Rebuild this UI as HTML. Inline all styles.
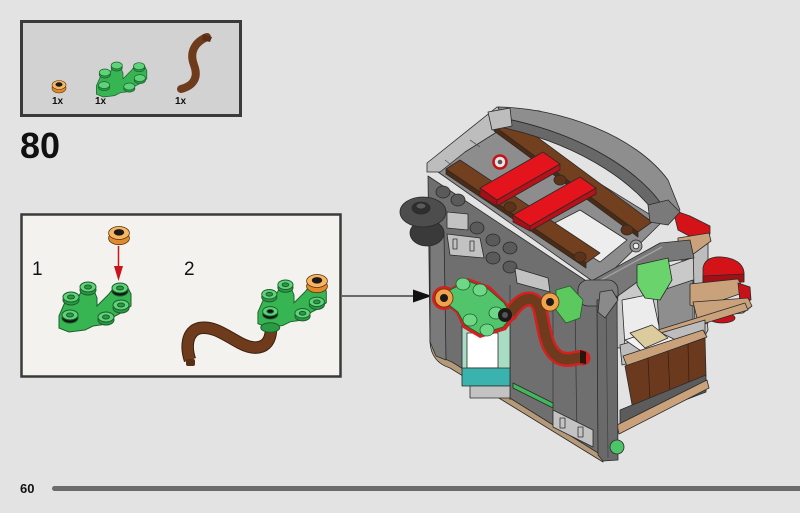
<!DOCTYPE html>
<html><head><meta charset="utf-8"><style>
html,body{margin:0;padding:0;background:#e3e3e3;}
svg{display:block;}
text{font-family:"Liberation Sans",Arial,sans-serif;fill:#111;}
</style></head><body>
<svg width="800" height="513" viewBox="0 0 800 513" xmlns="http://www.w3.org/2000/svg">
<rect width="800" height="513" fill="#e3e3e3"/>

<!-- PARTS BOX -->
<rect x="21.5" y="21.5" width="219" height="94" fill="#d2d2d2" stroke="#3a3a3a" stroke-width="3"/>
<!-- orange stud -->
<g transform="translate(59,85)">
<ellipse cx="0" cy="3" rx="7" ry="5" fill="#e08a30" stroke="#5a3008" stroke-width=".6"/>
<ellipse cx="0" cy="0" rx="7" ry="4.5" fill="#f6b562" stroke="#5a3008" stroke-width=".6"/>
<ellipse cx="0" cy="-0.5" rx="3.5" ry="2.2" fill="#1a1a1a"/>
</g>
<!-- green branch small -->
<g transform="translate(95,62) scale(0.7)">
<polygon points="2,34 8,20 22,14 26,6 36,6 40,16 40,24 52,12 58,4 70,4 74,12 74,24 66,30 58,34 50,42 36,44 28,48 12,50 2,46" fill="#38b553" stroke="#1d5f2c" stroke-width="1"/>
<g stroke="#1d5f2c" stroke-width="1">
<ellipse cx="31" cy="8" rx="8" ry="5" fill="#2a9a45"/><ellipse cx="31" cy="5" rx="8" ry="5" fill="#5ed37a"/>
<ellipse cx="63" cy="9" rx="8" ry="5" fill="#2a9a45"/><ellipse cx="63" cy="6" rx="8" ry="5" fill="#5ed37a"/>
<ellipse cx="14" cy="18" rx="8" ry="5" fill="#2a9a45"/><ellipse cx="14" cy="15" rx="8" ry="5" fill="#5ed37a"/>
<ellipse cx="64" cy="26" rx="8" ry="5" fill="#2a9a45"/><ellipse cx="64" cy="23" rx="8" ry="5" fill="#5ed37a"/>
<ellipse cx="49" cy="38" rx="8" ry="5" fill="#2a9a45"/><ellipse cx="49" cy="35" rx="8" ry="5" fill="#5ed37a"/>
<ellipse cx="13" cy="36" rx="8" ry="5" fill="#2a9a45"/><ellipse cx="13" cy="33" rx="8" ry="5" fill="#5ed37a"/>
</g>
</g>
<!-- brown S -->
<path d="M207,37 C195,42 189,52 194,65 C199,78 193,86 181,89" fill="none" stroke="#6e3b1c" stroke-width="8" stroke-linecap="round"/>
<path d="M203,34 L212,37 L210,42 L202,40 Z" fill="#5a2e14"/>
<text x="52" y="104" font-size="10" font-weight="bold">1x</text>
<text x="95" y="104" font-size="10" font-weight="bold">1x</text>
<text x="175" y="104" font-size="10" font-weight="bold">1x</text>

<text x="20" y="158" font-size="36" font-weight="bold">80</text>

<!-- SUB-STEP BOX -->
<rect x="21.5" y="214.5" width="319" height="162" fill="#f3f2ee" stroke="#3a3a3a" stroke-width="2.5"/>
<text x="32" y="275" font-size="19">1</text>
<text x="184" y="275" font-size="19">2</text>

<!-- step1 orange stud + arrow -->
<g transform="translate(119,233) scale(1.3)">
<ellipse cx="0" cy="4" rx="8" ry="5" fill="#e08a30" stroke="#5a3008" stroke-width=".6"/>
<ellipse cx="0" cy="0" rx="8" ry="5" fill="#f6b562" stroke="#5a3008" stroke-width=".6"/>
<ellipse cx="0" cy="-0.5" rx="4" ry="2.5" fill="#1a1a1a"/>
</g>
<line x1="118.5" y1="246" x2="118.5" y2="270" stroke="#c8141c" stroke-width="1.5"/>
<polygon points="114,266 123,266 118.5,281" fill="#c8141c"/>

<!-- step1 green -->
<g transform="translate(57,282)">
<polygon points="2,34 8,20 22,14 26,6 36,6 40,16 40,24 52,12 58,4 70,4 74,12 74,24 66,30 58,34 50,42 36,44 28,48 12,50 2,46" fill="#38b553" stroke="#1d5f2c" stroke-width="1"/>
<g stroke="#1d5f2c" stroke-width="1">
<ellipse cx="31" cy="8" rx="8" ry="5" fill="#2a9a45"/><ellipse cx="31" cy="5" rx="8" ry="5" fill="#5ed37a"/><ellipse cx="31" cy="5" rx="3.5" ry="2" fill="#2a9a45"/>
<ellipse cx="63" cy="9" rx="8" ry="5" fill="#111"/><ellipse cx="63" cy="6" rx="8" ry="5" fill="#5ed37a"/><ellipse cx="63" cy="6" rx="3.5" ry="2" fill="#2a9a45"/>
<ellipse cx="14" cy="18" rx="8" ry="5" fill="#2a9a45"/><ellipse cx="14" cy="15" rx="8" ry="5" fill="#5ed37a"/><ellipse cx="14" cy="15" rx="3.5" ry="2" fill="#2a9a45"/>
<ellipse cx="64" cy="26" rx="8" ry="5" fill="#2a9a45"/><ellipse cx="64" cy="23" rx="8" ry="5" fill="#5ed37a"/><ellipse cx="64" cy="23" rx="3.5" ry="2" fill="#2a9a45"/>
<ellipse cx="49" cy="38" rx="8" ry="5" fill="#2a9a45"/><ellipse cx="49" cy="35" rx="8" ry="5" fill="#5ed37a"/><ellipse cx="49" cy="35" rx="3.5" ry="2" fill="#2a9a45"/>
<ellipse cx="13" cy="36" rx="8" ry="5" fill="#111"/><ellipse cx="13" cy="33" rx="8" ry="5" fill="#5ed37a"/><ellipse cx="13" cy="33" rx="3.5" ry="2" fill="#2a9a45"/>
</g>
</g>

<!-- step2 brown hose -->
<path d="M271,326 C272,350 255,351 240,343 C225,335 214,326 200,328 C186,331 186,348 190,360" fill="none" stroke="#3d1f0c" stroke-width="12.5"/>
<path d="M271,326 C272,350 255,351 240,343 C225,335 214,326 200,328 C186,331 186,348 190,360" fill="none" stroke="#6e3b1c" stroke-width="10.5"/>
<rect x="186" y="359" width="9" height="7" rx="2" fill="#5a2e14"/>
<!-- step2 green -->
<g transform="translate(256,280) scale(0.95)">
<polygon points="2,34 8,20 22,14 26,6 36,6 40,16 40,24 52,12 58,4 70,4 74,12 74,24 66,30 58,34 50,42 36,44 28,48 12,50 2,46" fill="#38b553" stroke="#1d5f2c" stroke-width="1"/>
<g stroke="#1d5f2c" stroke-width="1">
<ellipse cx="31" cy="8" rx="8" ry="5" fill="#2a9a45"/><ellipse cx="31" cy="5" rx="8" ry="5" fill="#5ed37a"/><ellipse cx="31" cy="5" rx="3.5" ry="2" fill="#2a9a45"/>
<ellipse cx="14" cy="18" rx="8" ry="5" fill="#2a9a45"/><ellipse cx="14" cy="15" rx="8" ry="5" fill="#5ed37a"/><ellipse cx="14" cy="15" rx="3.5" ry="2" fill="#2a9a45"/>
<ellipse cx="64" cy="26" rx="8" ry="5" fill="#2a9a45"/><ellipse cx="64" cy="23" rx="8" ry="5" fill="#5ed37a"/><ellipse cx="64" cy="23" rx="3.5" ry="2" fill="#2a9a45"/>
<ellipse cx="49" cy="38" rx="8" ry="5" fill="#2a9a45"/><ellipse cx="49" cy="35" rx="8" ry="5" fill="#5ed37a"/><ellipse cx="49" cy="35" rx="3.5" ry="2" fill="#2a9a45"/>
<ellipse cx="15" cy="50" rx="10" ry="5" fill="#2a9a45"/>
<ellipse cx="15" cy="36" rx="8" ry="5" fill="#111"/><ellipse cx="15" cy="33" rx="8" ry="5" fill="#5ed37a"/><ellipse cx="15" cy="33" rx="3.5" ry="2" fill="#111"/>
</g>
</g>
<g transform="translate(317,281) scale(1.3)">
<ellipse cx="0" cy="4" rx="8" ry="5" fill="#e08a30" stroke="#5a3008" stroke-width=".6"/>
<ellipse cx="0" cy="0" rx="8" ry="5" fill="#f6b562" stroke="#5a3008" stroke-width=".6"/>
<ellipse cx="0" cy="-0.5" rx="4" ry="2.5" fill="#1a1a1a"/>
</g>

<!-- connector arrow -->
<line x1="342" y1="296" x2="416" y2="296" stroke="#222" stroke-width="1.3"/>
<polygon points="413,289.5 432,296 413,302.5" fill="#111"/>

<!-- ================= MAIN MODEL ================= -->
<g stroke="#2a2a2a" stroke-width="0.8" stroke-linejoin="round">
<!-- right back interior -->
<polygon points="617,285 700,255 708,330 700,345 617,348" fill="#c9c9c9"/>
<polygon points="622,300 652,294 662,340 625,347" fill="#ececec"/>
<polygon points="657,292 693,280 693,338 660,345" fill="#8e8e8e"/>
<polygon points="693,247 708,243 708,323 695,327" fill="#bdbdbd"/>

<!-- red / tan right -->
<polygon points="673,210 690,216 710,226 710,234 693,238 678,230" fill="#d41319"/>
<polygon points="678,238 709,233 711,241 684,261 678,259" fill="#c9a27b"/>
<path d="M703,268 Q705,256 722,257 Q742,259 744,272 L744,281 L703,283 Z" fill="#d41319"/>
<polygon points="703,276 744,274 744,282 703,284" fill="#a30f14"/>
<polygon points="690,284 738,279 745,292 700,308 690,305" fill="#c9a27b"/>
<polygon points="738,283 750,287 751,300 740,302" fill="#c8121a"/>
<polygon points="693,302 748,298 752,306 743,313 697,318" fill="#c9a27b"/>
<ellipse cx="722" cy="318" rx="13" ry="5" fill="#c8121a"/>
<polygon points="658,330 745,303 748,310 660,337" fill="#c9a27b"/>

<!-- interior lower -->
<polygon points="620,345 705,320 705,345 622,365" fill="#bdbdbd"/>
<polygon points="625,340 655,330 680,342 650,357" fill="#f2f2f2"/>
<polygon points="630,333 652,325 668,338 645,348" fill="#dccb9c"/>
<polygon points="623,356 703,330 707,337 627,366" fill="#c9a27b"/>
<polygon points="625,366 705,338 706,375 633,410" fill="#6b3a1e"/>
<line x1="648" y1="358" x2="650" y2="402" stroke="#3d1f0c"/>
<line x1="668" y1="351" x2="670" y2="394" stroke="#3d1f0c"/>
<line x1="688" y1="344" x2="689" y2="383" stroke="#3d1f0c"/>
<polygon points="620,410 706,375 706,392 620,425" fill="#5c5c5c"/>
<polygon points="617,425 707,380 709,388 619,434" fill="#c9a27b"/>

<!-- front wall -->
<polygon points="428,176 600,290 601,457 450,366 436,357 430,342" fill="#6f6f6f"/>
<path d="M430,342 Q431,362 450,368 L603,462 L603,456 L452,362 Q437,357 435,342 Z" fill="#b59a7a"/>
<polygon points="430,235 444,232 446,360 436,356 430,342" fill="#7a7a7a"/>
<line x1="510" y1="285" x2="510" y2="400" stroke="#3a3a3a"/>
<line x1="553" y1="300" x2="553" y2="425" stroke="#3a3a3a"/>
<line x1="575" y1="300" x2="577" y2="440" stroke="#3a3a3a"/>

<!-- top face -->
<polygon points="438,172 500,122 662,222 598,285" fill="#8d8d8d"/>
<polygon points="427,163 497,107 540,111 545,120 500,130 465,152 440,172 427,172" fill="#bdbdbd"/>
<line x1="445" y1="160" x2="455" y2="168" stroke="#555"/>
<line x1="470" y1="140" x2="480" y2="147" stroke="#555"/>
<line x1="495" y1="120" x2="505" y2="126" stroke="#555"/>

<!-- brown B -->
<polygon points="494,126 638,232 638,237 494,131" fill="#4e2a13"/>
<polygon points="494,126 510,117 652,222 638,232" fill="#73401f"/>
<!-- white gap -->
<polygon points="545,228 580,210 627,240 600,262" fill="#ededed"/>
<!-- brown A -->
<polygon points="446,169 586,263 586,268 446,174" fill="#4e2a13"/>
<polygon points="446,169 460,160 600,253 586,263" fill="#73401f"/>
<!-- brown studs -->
<ellipse cx="510" cy="207" rx="6" ry="5" fill="#5e3218"/>
<ellipse cx="560" cy="180" rx="6" ry="5" fill="#5e3218"/>
<ellipse cx="627" cy="230" rx="6" ry="5" fill="#5e3218"/>
<ellipse cx="580" cy="257" rx="6" ry="5" fill="#5e3218"/>
<!-- red ring -->
<circle cx="500" cy="162" r="6.5" fill="#e6e6e6" stroke="#c8121a" stroke-width="2.5"/>
<circle cx="500" cy="162" r="2.3" fill="#555" stroke="none"/>
<!-- red strips -->
<polygon points="480,188 497,200 497,206 480,196" fill="#a80f14"/>
<polygon points="497,200 560,164 560,170 497,206" fill="#b81117"/>
<polygon points="480,188 543,152 560,164 497,200" fill="#e3141c"/>
<polygon points="513,215 530,226 530,231 513,222" fill="#a80f14"/>
<polygon points="530,226 596,188 596,194 530,231" fill="#b81117"/>
<polygon points="513,215 580,177 596,188 530,226" fill="#e3141c"/>

<!-- roof arc -->
<path d="M498,107 C560,108 635,135 668,180 L680,210 L668,216 C652,180 590,135 502,118 Z" fill="#8e8e8e"/>
<path d="M502,118 C590,135 652,180 668,216 L662,224 C642,188 585,145 500,127 Z" fill="#686868"/>
<polygon points="648,205 668,200 680,212 668,225 650,222" fill="#7a7a7a"/>
<polygon points="488,112 510,108 512,126 492,130" fill="#bdbdbd"/>

<!-- studs on slope -->
<g fill="#5a5a5a">
<ellipse cx="443" cy="192" rx="7" ry="6"/>
<ellipse cx="458" cy="200" rx="7" ry="6"/>
<ellipse cx="477" cy="228" rx="7" ry="6"/>
<ellipse cx="493" cy="240" rx="7" ry="6"/>
<ellipse cx="510" cy="248" rx="7" ry="6"/>
<ellipse cx="493" cy="258" rx="7" ry="6"/>
<ellipse cx="510" cy="267" rx="7" ry="6"/>
</g>

<!-- black round piece -->
<ellipse cx="427" cy="233" rx="17" ry="13" fill="#3a3a3a"/>
<ellipse cx="423" cy="212" rx="23" ry="15" fill="#4d4d4d"/>
<ellipse cx="421" cy="208" rx="9" ry="6" fill="#2e2e2e"/>
<ellipse cx="421" cy="206" rx="5" ry="3" fill="#5a5a5a"/>

<!-- light gray tiles -->
<polygon points="447,212 468,214 468,230 447,228" fill="#c2c2c2"/>
<polygon points="447,234 480,238 484,258 450,255" fill="#c2c2c2"/>
<rect x="453" y="239" width="4" height="10" fill="none" stroke="#333"/>
<rect x="470" y="241" width="4" height="10" fill="none" stroke="#333"/>
<polygon points="515,268 548,278 550,292 517,283" fill="#c2c2c2"/>

<!-- tube & pillar -->
<polygon points="586,284 660,243 690,240 694,258 665,262 604,306" fill="#787878"/>
<line x1="590" y1="286" x2="662" y2="247" stroke="#a0a0a0" stroke-width="1.5"/>
<circle cx="636" cy="246" r="6" fill="#9a9a9a"/>
<circle cx="636" cy="246" r="2.8" fill="#f0f0f0"/>
<polygon points="637,265 668,258 672,280 660,300 645,298 637,285" fill="#6bd36b"/>
<rect x="578" y="280" width="40" height="26" rx="10" fill="#7c7c7c"/>
<polygon points="597,300 617,296 618,460 603,461 598,455" fill="#6a6a6a"/>
<line x1="606" y1="300" x2="608" y2="458" stroke="#444"/>
<polygon points="600,292 612,290 618,300 605,318 598,312" fill="#8a8a8a"/>

<!-- window -->
<rect x="462" y="307" width="48" height="62" fill="#a9dcc4"/>
<rect x="467" y="333" width="31" height="35" fill="#ffffff"/>
<rect x="462" y="368" width="48" height="18" fill="#3ab2ad"/>
<rect x="470" y="386" width="40" height="12" fill="#c3c3c3"/>
<polygon points="513,383 553,403 553,408 513,388" fill="#43b75c"/>
<polygon points="553,410 593,430 593,447 553,427" fill="#c3c3c3"/>
<rect x="560" y="418" width="5" height="10" fill="none" stroke="#333"/>
<rect x="578" y="427" width="5" height="10" fill="none" stroke="#333"/>
<circle cx="617" cy="447" r="7" fill="#4cc468"/>
</g>

<!-- tree with red outline -->
<g>
<path d="M510,314 C520,298 535,292 540,310 C545,330 545,350 560,358 C570,362 578,356 583,358" fill="none" stroke="#d42020" stroke-width="15" stroke-linecap="round"/>
<g fill="#d42020">
<polygon points="447,290 468,278 490,286 506,302 516,316 506,330 480,338 463,328 456,313 446,305"/>
<circle cx="444" cy="298" r="12"/>
</g>
<path d="M510,314 C520,298 535,292 540,310 C545,330 545,350 560,358 C570,362 578,356 583,358" fill="none" stroke="#6e3b1c" stroke-width="10" stroke-linecap="butt"/>
<polygon points="580,350 586,352 586,364 580,363" fill="#2a1508"/>
<polygon points="450,290 468,281 488,289 504,303 512,316 503,327 480,334 465,325 458,312 449,305" fill="#52c46c" stroke="#1d5f2c" stroke-width=".8"/>
<g fill="#6fd888" stroke="#1d5f2c" stroke-width=".8">
<ellipse cx="463" cy="284" rx="7" ry="6"/>
<ellipse cx="480" cy="290" rx="7" ry="6"/>
<ellipse cx="470" cy="320" rx="7" ry="6"/>
<ellipse cx="487" cy="330" rx="7" ry="6"/>
<ellipse cx="496" cy="313" rx="7" ry="6"/>
</g>
<ellipse cx="505" cy="315" rx="7" ry="7" fill="#1a1a1a"/>
<ellipse cx="505" cy="315" rx="3" ry="3" fill="#555"/>
<!-- orange studs on model -->
<circle cx="444" cy="298" r="9" fill="#f2a24a" stroke="#5a3008" stroke-width=".8"/>
<circle cx="444" cy="298" r="4" fill="#1a1a1a"/>
<!-- right green leaf -->
<polygon points="556,290 570,286 583,300 580,318 566,323 556,310" fill="#5cc95f" stroke="#1d5f2c" stroke-width=".8"/>
<circle cx="550" cy="302" r="9" fill="#f2a24a" stroke="#5a3008" stroke-width=".8"/>
<circle cx="550" cy="302" r="4" fill="#1a1a1a"/>
</g>

<!-- FOOTER -->
<text x="20" y="493" font-size="13" font-weight="bold">60</text>
<rect x="52" y="486" width="760" height="5" rx="2.5" fill="#6b6b6b"/>
</svg>
</body></html>
